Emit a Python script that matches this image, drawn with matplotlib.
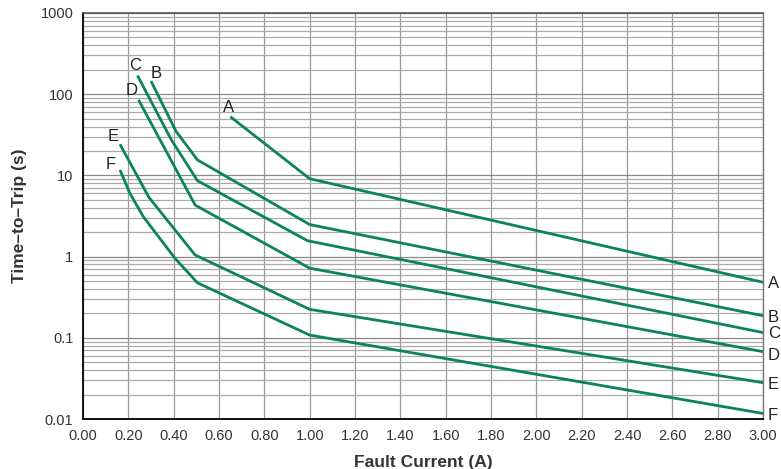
import numpy as np
import matplotlib
matplotlib.use("Agg")
import matplotlib.pyplot as plt
from matplotlib.ticker import FixedLocator, LogLocator, NullFormatter

plt.rcParams['font.family'] = ['Liberation Sans', 'DejaVu Sans']

# curve data (fault current A, time s)
a_x = [0.65, 1.00, 3.00]
a_y = [52.8, 9.1, 0.483]
b_x = [0.30, 0.41, 0.505, 1.00, 3.00]
b_y = [145, 35, 15.5, 2.48, 0.187]
c_x = [0.24, 0.39, 0.505, 0.99, 3.00]
c_y = [170, 27.3, 8.6, 1.57, 0.116]
d_x = [0.245, 0.495, 1.00, 3.00]
d_y = [85, 4.3, 0.72, 0.0675]
e_x = [0.163, 0.29, 0.494, 1.00, 3.00]
e_y = [24.2, 5.4, 1.05, 0.224, 0.028]
f_x = [0.163, 0.207, 0.266, 0.406, 0.505, 1.00, 3.00]
f_y = [11.7, 6.0, 3.1, 0.95, 0.475, 0.108, 0.0117]

curves = [("A", a_x, a_y), ("B", b_x, b_y), ("C", c_x, c_y),
          ("D", d_x, d_y), ("E", e_x, e_y), ("F", f_x, f_y)]
# label offsets (pixels) from the start point of each curve
start_offsets = {"A": (-2, 2), "B": (5, 0), "C": (-2, 2),
                 "D": (-7, 2), "E": (-7, 0), "F": (-9, -2)}
end_offsets = {"A": -1, "B": -2, "C": -1, "D": -4, "E": -2, "F": -2}

x_ticks = np.arange(0, 3.01, 0.2)
y_ticks = [0.01, 0.1, 1, 10, 100, 1000]
y_labels = ["0.01", "0.1", "1", "10", "100", "1000"]

green = "#0b8457"

fig = plt.figure(figsize=(7.81, 4.69), dpi=100)
ax = fig.add_axes([0.1063, 0.1066, 0.8707, 0.8657])

for name, xs, ys in curves:
    ax.plot(xs, ys, color=green, linewidth=2.0, solid_capstyle='butt', zorder=3)
    dx, dy = start_offsets[name]
    ax.annotate(name, (xs[0], ys[0]), xytext=(dx, dy), textcoords='offset pixels',
                ha='center', va='bottom', fontsize=12, color='#222222')
    ax.annotate(name, (xs[-1], ys[-1]), xytext=(5, end_offsets[name]),
                textcoords='offset pixels', ha='left', va='center',
                fontsize=12, color='#222222', annotation_clip=False)

ax.set_yscale('log')
ax.set_xlim(0, 3.0)
ax.set_ylim(0.01, 1000)

ax.xaxis.set_major_locator(FixedLocator(x_ticks))
ax.set_xticklabels(["%.2f" % v for v in x_ticks])
ax.set_yticks(y_ticks)
ax.set_yticklabels(y_labels)
ax.yaxis.set_minor_locator(LogLocator(base=10, subs=np.arange(2, 10)))
ax.yaxis.set_minor_formatter(NullFormatter())

ax.grid(True, which='major', axis='x', color='#999999', linewidth=0.9)
ax.grid(True, which='major', axis='y', color='#888888', linewidth=0.9)
ax.grid(True, which='minor', axis='y', color='#aaaaaa', linewidth=0.9)
ax.set_axisbelow(True)

ax.tick_params(which='both', length=0, labelsize=10.5, labelcolor='#333333')
ax.tick_params(axis='x', pad=7)
ax.tick_params(axis='y', pad=7)

for side in ['left', 'bottom']:
    ax.spines[side].set_color('#111111')
    ax.spines[side].set_linewidth(1.4)
ax.spines['top'].set_color('#555555')
ax.spines['top'].set_linewidth(1.2)
ax.spines['right'].set_color('#777777')
ax.spines['right'].set_linewidth(1.0)

ax.set_xlabel("Fault Current (A)", fontsize=12.5, fontweight='bold', color='#333333', labelpad=9)
ax.set_ylabel("Time\u2013to\u2013Trip (s)", fontsize=12.5, fontweight='bold', color='#333333', labelpad=10)

fig.savefig("out.png", dpi=100)
